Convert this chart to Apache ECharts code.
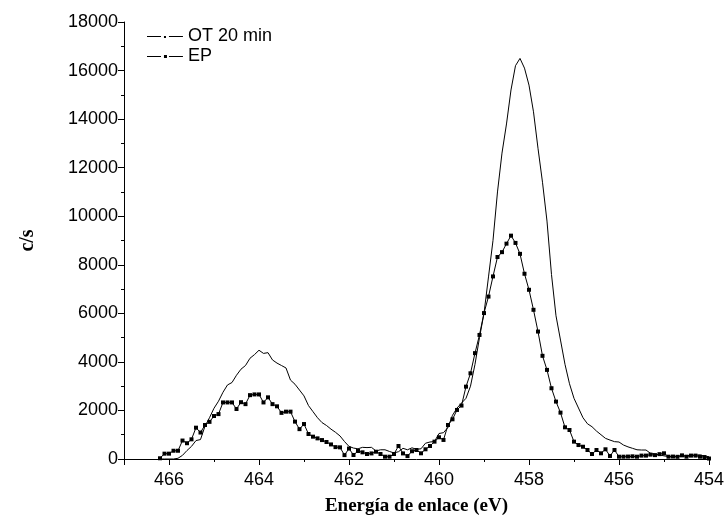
<!DOCTYPE html>
<html>
<head>
<meta charset="utf-8">
<script src="https://cdn.jsdelivr.net/npm/echarts@6/dist/echarts.min.js"></script>
<style>
html,body{margin:0;padding:0;background:#fff;}
#chart{width:727px;height:526px;}
</style>
</head>
<body>
<div id="chart"></div>
<script>
// Binding energy grid (eV)
var energies = [
466.2,466.1,466.0,465.9,465.8,465.7,465.6,465.5,465.4,465.3,
465.2,465.1,465.0,464.9,464.8,464.7,464.6,464.5,464.4,464.3,
464.2,464.1,464.0,463.9,463.8,463.7,463.6,463.5,463.4,463.3,
463.2,463.1,463.0,462.9,462.8,462.7,462.6,462.5,462.4,462.3,
462.2,462.1,462.0,461.9,461.8,461.7,461.6,461.5,461.4,461.3,
461.2,461.1,461.0,460.9,460.8,460.7,460.6,460.5,460.4,460.3,
460.2,460.1,460.0,459.9,459.8,459.7,459.6,459.5,459.4,459.3,
459.2,459.1,459.0,458.9,458.8,458.7,458.6,458.5,458.4,458.3,
458.2,458.1,458.0,457.9,457.8,457.7,457.6,457.5,457.4,457.3,
457.2,457.1,457.0,456.9,456.8,456.7,456.6,456.5,456.4,456.3,
456.2,456.1,456.0,455.9,455.8,455.7,455.6,455.5,455.4,455.3,
455.2,455.1,455.0,454.9,454.8,454.7,454.6,454.5,454.4,454.3,
454.2,454.1,454.0
];
// OT 20 min (c/s)
var otValues = [
0,0,0,0,30,150,350,520,760,800,
1350,1700,2090,2380,2750,3050,3150,3450,3700,3850,
4150,4300,4480,4350,4380,4080,3950,3850,3750,3250,
3080,2840,2600,2200,1950,1700,1500,1380,1230,1100,
950,720,520,450,420,480,470,480,330,380,
380,310,250,300,440,380,460,400,420,650,
700,720,1050,1085,1300,1800,2100,2300,2500,3000,
3900,5000,6000,7500,9000,11000,12600,13800,15200,16200,
16500,16100,15400,14300,12800,11400,9800,7600,5900,4900,
3900,3100,2500,2100,1700,1450,1330,1150,1000,850,
780,715,700,575,500,440,380,370,370,235,
200,165,130,100,95,110,130,135,150,160,
165,120,95
];
// EP (c/s)
var epValues = [
30,220,220,340,340,760,650,810,1290,1090,
1400,1530,1770,1850,2330,2330,2330,2060,2340,2260,
2630,2660,2660,2330,2540,2260,2170,1900,1950,1950,
1540,1230,1440,1030,920,850,780,700,600,490,
480,160,430,165,330,275,205,230,300,205,
95,95,205,535,230,120,320,370,235,400,
535,715,895,785,1400,1635,2020,2200,2980,3530,
4360,5110,6010,6690,7520,8320,8520,8870,9200,8900,
8450,7630,6970,6145,5250,4250,3670,2915,2365,1910,
1305,1195,715,575,505,370,205,370,235,400,
125,370,95,95,100,110,95,140,140,180,
160,200,235,95,100,90,150,95,140,140,
95,80,20
];
var seriesNames = ['OT 20 min', 'EP'];

function pairs(xs, ys){ return xs.map(function(x,i){ return [x, ys[i]]; }); }

var chart = echarts.init(document.getElementById('chart'), null, {renderer:'canvas'});
var sans = 'Liberation Sans, Arial, sans-serif';
var serif = 'Liberation Serif, Times New Roman, serif';
var iconOT = 'path://M0,3h14v1h-14z M17,3h2v2h-2z M22,3h14v1h-14z M0,0h0.01v0.01h-0.01z M0,6h0.01v0.01h-0.01z';
var iconEP = 'path://M0,3h14v1h-14z M17,2h3v3h-3z M22,3h14v1h-14z M0,0h0.01v0.01h-0.01z M0,6h0.01v0.01h-0.01z';
chart.setOption({
  animation:false,
  backgroundColor:'#fff',
  grid:{left:124, right:17, top:22, bottom:67, containLabel:false},
  legend:{
    orient:'vertical', left:142, top:22, itemGap:2,
    itemWidth:36, itemHeight:6,
    textStyle:{fontFamily:sans, fontSize:18, color:'#000', lineHeight:18},
    data:[{name:seriesNames[0], icon:iconOT}, {name:seriesNames[1], icon:iconEP}]
  },
  xAxis:{
    type:'value', inverse:true, min:454, max:467, interval:2,
    name:'Energía de enlace (eV)', nameLocation:'middle', nameGap:38,
    nameTextStyle:{fontFamily:serif, fontWeight:'bold', fontSize:19, color:'#000'},
    axisLine:{show:true, onZero:false, lineStyle:{color:'#000', width:1}},
    axisTick:{show:true, inside:false, length:6, lineStyle:{color:'#000'}},
    minorTick:{show:true, splitNumber:2, length:3, lineStyle:{color:'#000'}},
    splitLine:{show:false},
    axisLabel:{fontFamily:sans, fontSize:18, color:'#000', margin:12,
      formatter:function(v){ return v===467 ? '' : String(v); }}
  },
  yAxis:{
    type:'value', min:0, max:18000, interval:2000,
    name:'c/s', nameLocation:'middle', nameGap:86,
    nameTextStyle:{fontFamily:serif, fontWeight:'bold', fontSize:20, color:'#000'},
    axisLine:{show:true, lineStyle:{color:'#000', width:1}},
    axisTick:{show:true, inside:false, length:6, lineStyle:{color:'#000'}},
    minorTick:{show:true, splitNumber:2, length:3, lineStyle:{color:'#000'}},
    splitLine:{show:false},
    axisLabel:{fontFamily:sans, fontSize:18, color:'#000', margin:6,
      formatter:function(v){ return String(v); }}
  },
  series:[
    {name:seriesNames[0], type:'line', data:pairs(energies, otValues),
     symbol:'rect', symbolSize:2, showSymbol:false,
     itemStyle:{color:'#000'}, lineStyle:{color:'#000', width:1}, z:2},
    {name:seriesNames[1], type:'line', data:pairs(energies, epValues),
     symbol:'rect', symbolSize:4, showSymbol:true,
     itemStyle:{color:'#000'}, lineStyle:{color:'#000', width:1}, z:3}
  ]
});
</script>
</body>
</html>
